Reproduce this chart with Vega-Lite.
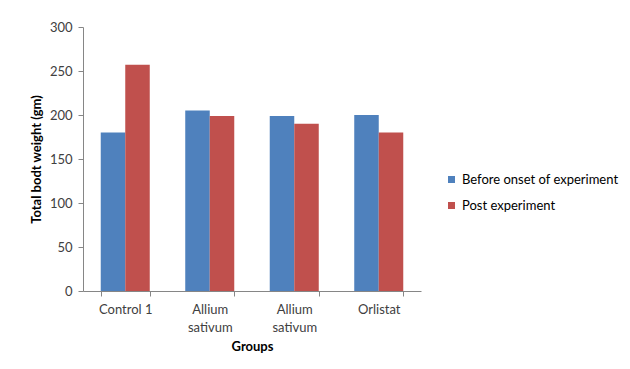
{
  "$schema": "https://vega.github.io/schema/vega-lite/v6.json",
  "width": 338,
  "height": 264,
  "autosize": "none",
  "padding": {"left": 83, "top": 27, "right": 209, "bottom": 78},
  "background": "white",
  "config": {
    "font": "Lato",
    "view": {"stroke": null}
  },
  "data": {
    "values": [
      {"group": "g1", "series": "Before onset of experiment", "weight": 180},
      {"group": "g1", "series": "Post experiment", "weight": 257},
      {"group": "g2", "series": "Before onset of experiment", "weight": 205},
      {"group": "g2", "series": "Post experiment", "weight": 199},
      {"group": "g3", "series": "Before onset of experiment", "weight": 199},
      {"group": "g3", "series": "Post experiment", "weight": 190},
      {"group": "g4", "series": "Before onset of experiment", "weight": 200},
      {"group": "g4", "series": "Post experiment", "weight": 180}
    ]
  },
  "mark": {"type": "bar"},
  "encoding": {
    "x": {
      "field": "group",
      "type": "nominal",
      "sort": ["g1", "g2", "g3", "g4"],
      "scale": {"paddingInner": 0.42, "paddingOuter": 0.21},
      "axis": {
        "title": "Groups",
        "titleFontWeight": "bold",
        "titleFontSize": 13,
        "titleColor": "#000000",
        "titlePadding": 6,
        "labelAngle": 0,
        "labelFontSize": 13,
        "labelColor": "#404040",
        "labelPadding": 7,
        "labelLineHeight": 18,
        "labelExpr": "datum.value == 'g1' ? 'Control 1' : datum.value == 'g4' ? 'Orlistat' : (datum.value == 'g2' || datum.value == 'g3') ? ['Allium', 'sativum'] : ''",
        "tickBand": "extent",
        "tickSize": 5,
        "tickColor": "#868686",
        "domainColor": "#868686"
      }
    },
    "xOffset": {
      "field": "series",
      "type": "nominal",
      "sort": ["Before onset of experiment", "Post experiment"]
    },
    "y": {
      "field": "weight",
      "type": "quantitative",
      "scale": {"domain": [0, 300], "nice": false},
      "axis": {
        "title": "Total bodt weight (gm)",
        "titleFontWeight": "bold",
        "titleFontSize": 13,
        "titleColor": "#000000",
        "titlePadding": 6,
        "values": [0, 50, 100, 150, 200, 250, 300],
        "grid": false,
        "labelFontSize": 13,
        "labelColor": "#404040",
        "labelPadding": 6,
        "tickSize": 5,
        "tickColor": "#868686",
        "domainColor": "#868686"
      }
    },
    "color": {
      "field": "series",
      "type": "nominal",
      "sort": ["Before onset of experiment", "Post experiment"],
      "scale": {"range": ["#4F81BD", "#C0504D"]},
      "legend": {
        "title": null,
        "orient": "none",
        "legendX": 362,
        "legendY": 146,
        "padding": 0,
        "rowPadding": 12,
        "symbolType": "square",
        "symbolSize": 49,
        "symbolStrokeWidth": 0,
        "labelFontSize": 13,
        "labelColor": "#000000",
        "labelOffset": 4
      }
    }
  }
}
